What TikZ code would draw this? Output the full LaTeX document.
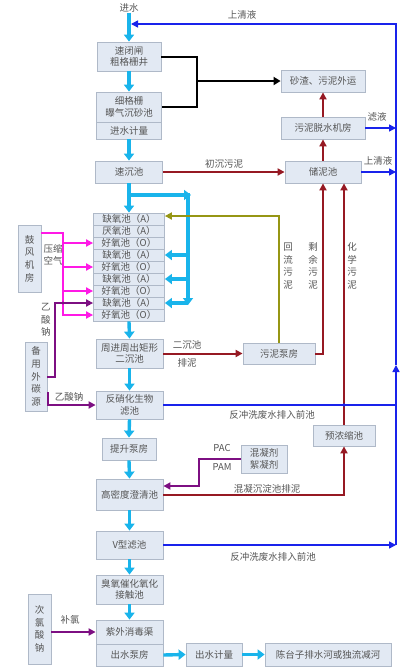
\documentclass[tikz,border=0pt]{standalone}
\usepackage{fontspec}
\setmainfont{Noto Sans CJK SC}
\usetikzlibrary{arrows.meta,calc}
\definecolor{cy}{RGB}{25,180,235}
\definecolor{bl}{RGB}{25,35,235}
\definecolor{dr}{RGB}{150,25,35}
\definecolor{ol}{RGB}{150,150,20}
\definecolor{mg}{RGB}{255,25,230}
\definecolor{pu}{RGB}{125,15,130}
\definecolor{bfill}{RGB}{226,233,243}
\definecolor{bdraw}{RGB}{175,185,200}
\definecolor{tx}{RGB}{85,85,85}
\begin{document}
\begin{tikzpicture}[x=1pt,y=-1pt,
 box/.style={draw=bdraw, fill=bfill, line width=0.8pt, inner sep=0pt, text=tx, align=center, font=\fontsize{9.5}{11.5}\selectfont},
 vbox/.style={box, font=\fontsize{9.5}{12.6}\selectfont},
 lbl/.style={text=tx, inner sep=0pt, align=center, font=\fontsize{9.5}{11}\selectfont},
 vlbl/.style={lbl, font=\fontsize{9.5}{12.5}\selectfont},
 cyl/.style={draw=cy, line width=3.4pt, -{Triangle[width=10pt,length=7pt]}},
 cyn/.style={draw=cy, line width=3.4pt},
 blk/.style={draw=black, line width=2pt},
 blka/.style={blk, -{Triangle[width=8pt,length=7pt]}},
 bll/.style={draw=bl, line width=1.5pt, -{Triangle[width=7pt,length=7pt]}},
 bln/.style={draw=bl, line width=1.5pt},
 drl/.style={draw=dr, line width=2pt, -{Triangle[width=7pt,length=7pt]}},
 oll/.style={draw=ol, line width=2pt, -{Triangle[width=7pt,length=7pt]}},
 mgl/.style={draw=mg, line width=1.8pt, -{Triangle[width=7pt,length=7pt]}},
 mgn/.style={draw=mg, line width=1.8pt},
 pul/.style={draw=pu, line width=2pt, -{Triangle[width=7pt,length=7pt]}}]
\useasboundingbox[fill=white] (0,0) rectangle (410,670);

% main column
\node[lbl] (in) at (129,8) {进水};
\node[box, minimum width=64pt, minimum height=29pt] (n1) at (129,56.5) {速闭闸\\粗格栅井};
\node[box, minimum width=65pt, minimum height=30pt] (n2) at (129,107) {细格栅\\曝气沉砂池};
\node[box, minimum width=65pt, minimum height=17pt] (n2b) at (129,130.5) {进水计量};
\node[box, minimum width=67pt, minimum height=22pt] (n3) at (129,172) {速沉池};
\node[box, minimum width=71pt, minimum height=12pt] (r1) at (129,219) {缺氧池（A）};
\node[box, minimum width=71pt, minimum height=12pt] (r2) at (129,231) {厌氧池（A）};
\node[box, minimum width=71pt, minimum height=12pt] (r3) at (129,243) {好氧池（O）};
\node[box, minimum width=71pt, minimum height=12pt] (r4) at (129,255) {缺氧池（A）};
\node[box, minimum width=71pt, minimum height=12pt] (r5) at (129,267) {好氧池（O）};
\node[box, minimum width=71pt, minimum height=12pt] (r6) at (129,279) {缺氧池（A）};
\node[box, minimum width=71pt, minimum height=12pt] (r7) at (129,291) {好氧池（O）};
\node[box, minimum width=71pt, minimum height=12pt] (r8) at (129,303) {缺氧池（A）};
\node[box, minimum width=71pt, minimum height=12pt] (r9) at (129,315) {好氧池（O）};
\node[box, minimum width=67pt, minimum height=29pt] (n5) at (129.5,353.5) {周进周出矩形\\二沉池};
\node[box, minimum width=67pt, minimum height=28pt] (n6) at (129.5,405) {反硝化生物\\滤池};
\node[box, minimum width=54pt, minimum height=22pt] (n7) at (129,449) {提升泵房};
\node[box, minimum width=67pt, minimum height=31pt] (n8) at (129.5,494.5) {高密度澄清池};
\node[box, minimum width=67pt, minimum height=28pt] (n9) at (129.5,545) {V型滤池};
\node[box, minimum width=67pt, minimum height=29pt] (n10) at (129.5,589.5) {臭氧催化氧化\\接触池};
\node[box, minimum width=67pt, minimum height=24pt] (n11) at (129.5,632) {紫外消毒渠};
\node[box, minimum width=67pt, minimum height=22pt] (n11b) at (129.5,655) {出水泵房};
\node[box, minimum width=56pt, minimum height=23pt] (n12) at (214,654.5) {出水计量};
\node[box, minimum width=126pt, minimum height=23pt] (n13) at (328,654.5) {陈台子排水河或独流减河};

% right column
\node[box, minimum width=84pt, minimum height=22pt] (n14) at (323,81) {砂渣、污泥外运};
\node[box, minimum width=84pt, minimum height=22pt] (n15) at (323,128) {污泥脱水机房};
\node[box, minimum width=76pt, minimum height=22pt] (n16) at (323,172) {储泥池};
\node[box, minimum width=72pt, minimum height=21pt] (n17) at (279,353.5) {污泥泵房};
\node[box, minimum width=62pt, minimum height=21pt] (n18) at (344,435.5) {预浓缩池};
\node[box, minimum width=46pt, minimum height=28pt] (n19) at (264,459) {混凝剂\\絮凝剂};

% left column
\node[vbox, minimum width=23pt, minimum height=67pt] (n20) at (29.5,258.5) {鼓\\风\\机\\房};
\node[vbox, minimum width=22pt, minimum height=69pt] (n21) at (36,376.5) {备\\用\\外\\碳\\源};
\node[vbox, minimum width=23pt, minimum height=70pt] (n22) at (39.5,629) {次\\氯\\酸\\钠};

% labels
\node[lbl] (l1) at (242,15) {上清液};
\node[lbl] (l2) at (377,117) {滤液};
\node[lbl] (l3) at (378,161) {上清液};
\node[lbl] (l4) at (224,164) {初沉污泥};
\node[vlbl] (l5) at (288,266) {回\\流\\污\\泥};
\node[vlbl] (l6) at (313,266) {剩\\余\\污\\泥};
\node[vlbl] (l7) at (352,266) {化\\学\\污\\泥};
\node[vlbl] (l8) at (53,255) {压缩\\空气};
\node[vlbl] (l9) at (46,320) {乙\\酸\\钠};
\node[lbl] (l10) at (69,397) {乙酸钠};
\node[lbl] (l11) at (187,345) {二沉池};
\node[lbl] (l12) at (187,363) {排泥};
\node[lbl] (l13) at (272,415) {反冲洗废水排入前池};
\node[lbl] (l14) at (222,448) {PAC};
\node[lbl] (l15) at (222,467) {PAM};
\node[lbl] (l16) at (267,489) {混凝沉淀池排泥};
\node[lbl] (l17) at (273,557) {反冲洗废水排入前池};
\node[lbl] (l18) at (70,620) {补氯};

% coordinates
\coordinate (cb) at (129,195);
\coordinate (cv) at (188,195);
\coordinate (ch) at (191,195);
\coordinate (ct) at (188,193);
\coordinate (cbot) at (188,305);
\coordinate (bk) at (197,81);
\coordinate (bx1) at (396,24);
\coordinate (bend) at (131,24);
\coordinate (bup) at (396,365);
\coordinate (m0) at (41,233);
\coordinate (mx) at (63,233);
\coordinate (p2) at (48,392);

% cyan main flow
\draw[cyl] (in.south) -- (n1.north);
\draw[cyl] (n1.south) -- (n2.north);
\draw[cyl] (n2b.south) -- (n3.north);
\draw[cyl] (n3.south) -- (r1.north);
\draw[cyl] (cb) -- (ch);
\draw[cyl] (ct) -- (cbot);
\draw[cyl] (cv |- r4.east) -- (r4.east);
\draw[cyl] (cv |- r6.east) -- (r6.east);
\draw[cyl] (cv |- r8.east) -- (r8.east);
\draw[cyl] (r9.south) -- (n5.north);
\draw[cyl] (n5.south) -- (n6.north);
\draw[cyl] (n6.south) -- (n7.north);
\draw[cyl] (n7.south) -- (n8.north);
\draw[cyl] (n8.south) -- (n9.north);
\draw[cyl] (n9.south) -- (n10.north);
\draw[cyl] (n10.south) -- (n11.north);
\draw[cyl] (n11b.east) -- (n12.west);
\draw[cyl] (n12.east) -- (n13.west);

% black
\draw[blk] (n1.east) -| (bk) |- (n2.east);
\draw[blka] (bk) -- (n14.west);

% blue
\draw[bll] (n9.east) -- (n9.east -| bx1);
\draw[bll] (n9.east -| bx1) -- (bup);
\draw[bll] (bup) -- (bx1) -- (bend);
\draw[bll] (n15.east) -- (n15.east -| bx1);
\draw[bll] (n16.east) -- (n16.east -| bx1);
\draw[bln] (n6.east) -- (n6.east -| bx1);

% dark red
\draw[drl] (n3.east) -- (n16.west);
\draw[drl] (n15.north) -- (n14.south);
\draw[drl] (n16.north) -- (n15.south);
\draw[drl] (n5.east) -- (n17.west);
\draw[drl] (n17.east) -| (n16.south);
\draw[drl] (n18.north) -- (n18.north |- n16.south);
\draw[drl] (n8.east) -| (n18.south);

% olive
\draw[oll] (n17.north) |- ($(r1.east)+(0,-3)$);

% magenta
\draw[mgl] (m0) -- (mx) |- (r9.west);
\draw[mgl] (mx |- r3.west) -- (r3.west);
\draw[mgl] (mx |- r5.west) -- (r5.west);
\draw[mgl] (mx |- r7.west) -- (r7.west);

% purple
\draw[pul] (n21.east) -- ++(8,0) |- (r8.west);
\draw[pul] (p2) |- (n6.west);
\draw[pul] (n19.west) -- ++(-42,0) |- ($(n8.east)+(0,-8.5)$);
\draw[pul] (n22.east |- n11.west) -- (n11.west);

% junction dots
\fill[bl] (n18.north |- n6.east) circle (1.8);
\fill[pu] (mx |- r8.west) circle (1.6);
\end{tikzpicture}
\end{document}
